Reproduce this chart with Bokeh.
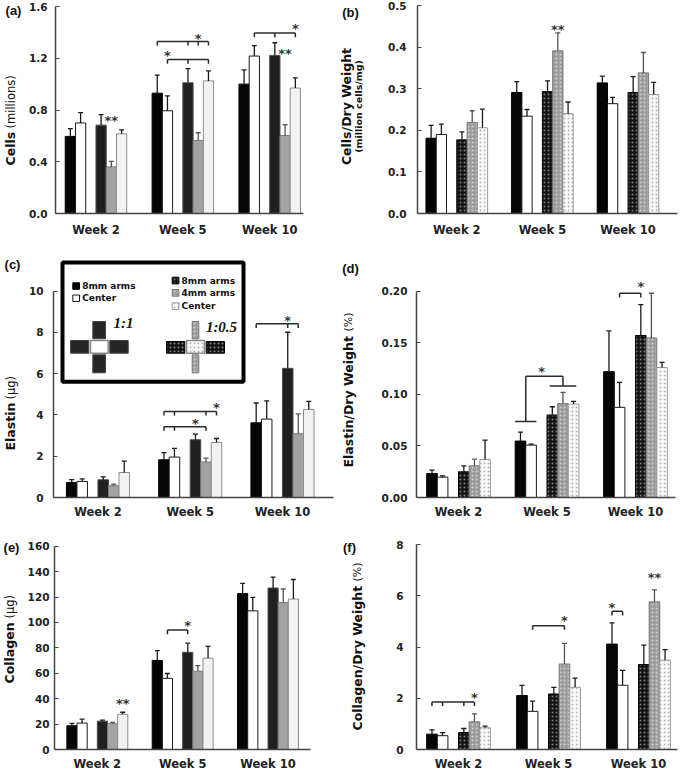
import math
from bokeh.plotting import figure
from bokeh.models import Range1d, FixedTicker, NumeralTickFormatter
from bokeh.layouts import column, row
from bokeh.embed import file_html
from bokeh.resources import INLINE
from bokeh.core.properties import value

# ---------------- data ----------------
weeks = ["Week 2", "Week 5", "Week 10"]
groups = ["1:1 8mm arms", "1:1 Center", "1:0.5 8mm arms", "1:0.5 4mm arms", "1:0.5 Center"]
legend_labels = ["8mm arms", "Center", "8mm arms", "4mm arms", "Center"]
ratio_labels = ["1:1", "1:0.5"]

# rows follow `groups`, columns follow `weeks`
cells_mean = [[0.596, 0.93, 1.00], [0.70, 0.794, 1.217], [0.683, 1.01, 1.222],
              [0.36, 0.565, 0.603], [0.616, 1.025, 0.97]]
cells_err = [[0.06, 0.14, 0.11], [0.08, 0.115, 0.08], [0.082, 0.11, 0.098],
             [0.043, 0.059, 0.083], [0.031, 0.077, 0.078]]

cellsdw_mean = [[0.181, 0.291, 0.314], [0.19, 0.234, 0.264], [0.177, 0.293, 0.291],
                [0.219, 0.391, 0.338], [0.206, 0.24, 0.286]]
cellsdw_err = [[0.031, 0.026, 0.016], [0.025, 0.016, 0.015], [0.019, 0.026, 0.038],
               [0.028, 0.043, 0.049], [0.045, 0.028, 0.029]]

elastin_mean = [[0.73, 1.83, 3.62], [0.78, 1.96, 3.80], [0.86, 2.80, 6.26],
                [0.57, 1.72, 3.09], [1.21, 2.67, 4.27]]
elastin_err = [[0.14, 0.35, 0.96], [0.12, 0.42, 0.88], [0.14, 0.27, 1.75],
               [0.08, 0.19, 0.96], [0.55, 0.19, 0.39]]

elastindw_mean = [[0.0233, 0.0547, 0.122], [0.0197, 0.0508, 0.0874], [0.0249, 0.080, 0.157],
                  [0.0307, 0.091, 0.1547], [0.0369, 0.0906, 0.126]]
elastindw_err = [[0.0032, 0.0087, 0.0395], [0.0013, 0.001, 0.0243], [0.0058, 0.008, 0.030],
                 [0.0065, 0.011, 0.0433], [0.0188, 0.0026, 0.005]]

collagen_mean = [[18.7, 70.1, 122.7], [20.8, 56.0, 109.1], [22.3, 76.5, 127.1],
                 [20.3, 61.6, 115.6], [27.7, 71.9, 118.4]]
collagen_err = [[1.8, 7.7, 8.0], [3.1, 3.8, 10.6], [0.8, 7.2, 8.5],
                [1.0, 4.4, 10.7], [1.6, 9.2, 15.4]]

collagendw_mean = [[0.60, 2.11, 4.12], [0.54, 1.49, 2.51], [0.66, 2.17, 3.32],
                   [1.08, 3.34, 5.77], [0.85, 2.43, 3.49]]
collagendw_err = [[0.17, 0.40, 0.83], [0.12, 0.40, 0.58], [0.16, 0.26, 0.76],
                  [0.31, 0.81, 0.47], [0.06, 0.36, 0.41]]

# significance brackets: (week, y, first group, last group, tick groups, mark, mark group, mark y)
cells_brackets = [(1, 1.33, 0, 4, [0, 2, 3, 4], "*", 3, 1.375),
                  (1, 1.19, 1, 4, [1, 2, 4], "*", 1, 1.245),
                  (2, 1.395, 1, 4, [1, 2, 4], "*", 4, 1.45)]
cells_marks = [(0, 3, 0.745, "**"), (2, 3, 1.258, "**")]   # (week, group, y, mark)
cellsdw_brackets = []
cellsdw_marks = [(1, 3, 0.449, "**")]
elastin_brackets = [(1, 4.17, 0, 4, [0, 1, 3, 4], "*", 4, 4.53),
                    (1, 3.43, 0, 3, [0, 1, 3], "*", 2, 3.72),
                    (2, 8.42, 0, 3, [0, 2, 3], "*", 2, 8.74)]
elastin_marks = []
elastindw_brackets = [(2, 0.198, 1, 2, [1, 2], "*", 2, 0.207)]
elastindw_marks = []
# grouped bracket in (d): week, left-group y, right-group y, joining y, mark y
elastindw_group_bracket = (1, 0.0738, 0.108, 0.1175, 0.1247)
collagen_brackets = [(1, 94.0, 1, 2, [1, 2], "*", 2, 100.2)]
collagen_marks = [(0, 4, 38.5, "**")]
collagendw_brackets = [(0, 1.86, 0, 3, [0, 1, 2, 3], "*", 3, 2.16),
                       (1, 4.84, 1, 3, [1, 3], "*", 3, 5.14),
                       (2, 5.40, 0, 1, [0, 1], "*", 0, 5.66)]
collagendw_marks = [(2, 3, 6.82, "**")]

# ---------------- styles / layout ----------------
SLOT = [-2.5, -1.5, 0.5, 1.5, 2.5]   # bar offsets in bar widths (slot 2 empty)

SOLID = [
    dict(fill_color="#050505", line_color="#000000"),
    dict(fill_color="#ffffff", line_color="#1a1a1a"),
    dict(fill_color="#202020", line_color="#4a4a4a"),
    dict(fill_color="#a3a3a3", line_color="#7a7a7a"),
    dict(fill_color="#f2f2f2", line_color="#8c8c8c"),
]
HATCH = dict(hatch_pattern="dot", hatch_scale=4, hatch_weight=1)
DOTTED = [
    dict(fill_color="#050505", line_color="#000000"),
    dict(fill_color="#ffffff", line_color="#1a1a1a"),
    dict(fill_color="#141414", line_color="#000000", hatch_color="#7a7a7a", **HATCH),
    dict(fill_color="#9c9c9c", line_color="#777777", hatch_color="#cfcfcf", **HATCH),
    dict(fill_color="#fcfcfc", line_color="#999999", hatch_color="#b3b3b3", **HATCH),
]

# page geometry (px): strip | panel for each column; three rows.
# In each row every frame starts at the row top and ends at ROW_FB.
STRIP_W = [24, 30]
COL_X = [0, 340]
COL_W = [340, 344]
ROW_Y = [0, 245, 522]
ROW_H = [245, 277, 251]
ROW_FB = [213, 497, 749]

FONT = "DejaVu Sans"
INK = "#222222"


def yend_of(cfg):
    r = cfg["row"]
    return cfg["yticks"][-1] * (ROW_FB[r] - ROW_Y[r]) / (ROW_FB[r] - cfg["ttop"])


def make_panel(cfg, means, errs, brackets, marks):
    c, r = cfg["col"], cfg["row"]
    fx = COL_X[c] + STRIP_W[c]
    fwid = COL_W[c] - STRIP_W[c]
    mbl = round(cfg["fl"] - fx)
    frw = round(cfg["fr"] - cfg["fl"])
    mbr = fwid - mbl - frw
    mbb = ROW_Y[r] + ROW_H[r] - ROW_FB[r]
    yend = yend_of(cfg)

    p = figure(width=fwid, height=ROW_H[r], x_range=Range1d(*cfg["xr"]),
               y_range=Range1d(0, yend), output_backend="svg",
               toolbar_location=None, min_border_left=mbl, min_border_right=mbr,
               min_border_top=0, min_border_bottom=mbb)
    p.xgrid.visible = False
    p.ygrid.visible = False
    p.outline_line_color = None
    p.background_fill_color = "white"
    p.border_fill_color = "white"

    xa = p.xaxis[0]
    xa.ticker = FixedTicker(ticks=[1, 2, 3])
    xa.major_label_overrides = {i + 1: wk for i, wk in enumerate(weeks)}
    xa.major_tick_line_color = None
    xa.minor_tick_line_color = None
    xa.major_label_standoff = cfg["xstand"]
    xa.major_label_text_font = FONT
    xa.major_label_text_font_style = "bold"
    xa.major_label_text_font_size = "11.5px"
    xa.major_label_text_color = INK
    xa.axis_line_color = "#444444"
    xa.axis_line_width = 1.5

    ya = p.yaxis[0]
    ya.ticker = FixedTicker(ticks=cfg["yticks"])
    ya.formatter = NumeralTickFormatter(format=cfg["yfmt"])
    ya.bounds = (0, cfg["yticks"][-1])
    ya.major_tick_in = 4
    ya.major_tick_out = 0
    ya.minor_tick_line_color = None
    ya.major_tick_line_color = "#444444"
    ya.major_label_standoff = cfg["ystand"]
    ya.major_label_text_font = FONT
    ya.major_label_text_font_style = "bold"
    ya.major_label_text_font_size = "10.5px"
    ya.major_label_text_color = INK
    ya.axis_line_color = "#444444"
    ya.axis_line_width = 1.5

    w = cfg["w"]

    def xpos(week, g):
        return week + 1 + SLOT[g] * w

    for g in range(5):
        xs = [xpos(k, g) for k in range(3)]
        p.vbar(x=xs, top=means[g], bottom=0, width=w, line_width=1, **cfg["style"][g])
    for g in range(5):
        xs = [xpos(k, g) for k in range(3)]
        tops = [m + e for m, e in zip(means[g], errs[g])]
        ec = "#555555" if g == 3 else "#1a1a1a"
        p.segment(x0=xs, y0=means[g], x1=xs, y1=tops, line_color=ec, line_width=1.3)
        p.segment(x0=[x - 0.24 * w for x in xs], y0=tops, x1=[x + 0.24 * w for x in xs],
                  y1=tops, line_color=ec, line_width=1.3)

    tick = 0.02 * cfg["yticks"][-1]
    sx0, sy0, sx1, sy1 = [], [], [], []
    mx, my, mt = [], [], []
    for (wk, y, g0, g1, tg, mk, mg, myy) in brackets:
        sx0.append(xpos(wk, g0)); sx1.append(xpos(wk, g1)); sy0.append(y); sy1.append(y)
        for t in tg:
            sx0.append(xpos(wk, t)); sx1.append(xpos(wk, t)); sy0.append(y); sy1.append(y - tick)
        mx.append(xpos(wk, mg)); my.append(myy); mt.append(mk)
    for (wk, g, y, mk) in marks:
        mx.append(xpos(wk, g)); my.append(y); mt.append(mk)
    if sx0:
        p.segment(x0=sx0, y0=sy0, x1=sx1, y1=sy1, line_color="#2a2a2a", line_width=1.5)
    if mx:
        p.text(x=mx, y=my, text=mt, text_font=value(FONT), text_font_style="bold",
               text_font_size="13px", text_color="#333333", text_align="center",
               text_baseline="middle", y_offset=3)
    return p, w


def make_strip(c, r, items):
    """Narrow figure left of a panel that carries the panel letter and the y-axis title."""
    w, h = STRIP_W[c], ROW_H[r]
    ox = COL_X[c]
    s = figure(width=w, height=h, x_range=Range1d(0, w), y_range=Range1d(ROW_FB[r], ROW_Y[r]),
               output_backend="svg", toolbar_location=None, min_border_left=0,
               min_border_right=0, min_border_top=0,
               min_border_bottom=ROW_Y[r] + h - ROW_FB[r],
               x_axis_type=None, y_axis_type=None)
    s.outline_line_color = None
    s.background_fill_color = "white"
    s.border_fill_color = "white"
    for (txt, font, style, size, x, y, align, rot) in items:
        s.text(x=[x - ox], y=[y], text=[txt], angle=math.pi / 2 if rot else 0,
               text_font=value(font), text_font_style=style, text_font_size=size,
               text_color="#111111", text_align=align, text_baseline="middle")
    return s


CFG = {
    "a": dict(col=0, row=0, fl=55, fr=303, ttop=6, xr=(0.534, 3.389), w=0.118,
              yticks=[0, 0.4, 0.8, 1.2, 1.6], yfmt="0.0", style=SOLID, xstand=3, ystand=8),
    "b": dict(col=1, row=0, fl=417, fr=677, ttop=5, xr=(0.541, 3.578), w=0.12,
              yticks=[0, 0.1, 0.2, 0.3, 0.4, 0.5], yfmt="0.0", style=DOTTED, xstand=3, ystand=11),
    "c": dict(col=0, row=1, fl=53, fr=333, ttop=290.7, xr=(0.518, 3.553), w=0.114,
              yticks=[0, 2, 4, 6, 8, 10], yfmt="0", style=SOLID, xstand=1, ystand=10),
    "d": dict(col=1, row=1, fl=416, fr=675, ttop=290.7, xr=(0.525, 3.452), w=0.12,
              yticks=[0, 0.05, 0.10, 0.15, 0.20], yfmt="0.00", style=DOTTED, xstand=1, ystand=9),
    "e": dict(col=0, row=2, fl=52, fr=310, ttop=545.7, xr=(0.498, 3.498), w=0.119,
              yticks=[0, 20, 40, 60, 80, 100, 120, 140, 160], yfmt="0", style=SOLID,
              xstand=1, ystand=5),
    "f": dict(col=1, row=2, fl=416, fr=677, ttop=544.3, xr=(0.533, 3.433), w=0.118,
              yticks=[0, 2, 4, 6, 8], yfmt="0", style=DOTTED, xstand=1, ystand=13),
}

LET = "Liberation Sans"
STRIPS = {
    "a": [("(a)", LET, "bold", "13px", 13, 10, "center", False),
          ("Cells", FONT, "bold", "12.5px", 10, 165, "left", True),
          ("(millions)", FONT, "normal", "11.5px", 10, 128, "left", True)],
    "b": [("(b)", LET, "bold", "13px", 350, 12, "center", False),
          ("Cells/Dry Weight", FONT, "bold", "12.5px", 346, 106, "center", True),
          ("(million cells/mg)", FONT, "bold", "9.5px", 358, 106, "center", True)],
    "c": [("(c)", LET, "bold", "13px", 12, 264, "center", False),
          ("Elastin", FONT, "bold", "12.5px", 10, 450, "left", True),
          ("(μg)", FONT, "normal", "11.5px", 10, 399, "left", True)],
    "d": [("(d)", LET, "bold", "13px", 350, 268, "center", False),
          ("Elastin/Dry Weight", FONT, "bold", "12.5px", 348, 467, "left", True),
          ("(%)", FONT, "normal", "11px", 348, 331, "left", True)],
    "e": [("(e)", LET, "bold", "13px", 11, 547, "center", False),
          ("Collagen", FONT, "bold", "12.5px", 9, 683, "left", True),
          ("(μg)", FONT, "normal", "11.5px", 9, 618, "left", True)],
    "f": [("(f)", LET, "bold", "13px", 349, 547, "center", False),
          ("Collagen/Dry Weight", FONT, "bold", "12.5px", 357, 730, "left", True),
          ("(%)", FONT, "normal", "11px", 357, 581, "left", True)],
}

pa, _ = make_panel(CFG["a"], cells_mean, cells_err, cells_brackets, cells_marks)
pb, _ = make_panel(CFG["b"], cellsdw_mean, cellsdw_err, cellsdw_brackets, cellsdw_marks)
pc, wc = make_panel(CFG["c"], elastin_mean, elastin_err, elastin_brackets, elastin_marks)
pd_, wd = make_panel(CFG["d"], elastindw_mean, elastindw_err, elastindw_brackets, elastindw_marks)
pe, _ = make_panel(CFG["e"], collagen_mean, collagen_err, collagen_brackets, collagen_marks)
pf, _ = make_panel(CFG["f"], collagendw_mean, collagendw_err, collagendw_brackets, collagendw_marks)

strips = {k: make_strip(CFG[k]["col"], CFG[k]["row"], STRIPS[k]) for k in "abcdef"}

# grouped bracket on (d)
wk, yl, yr, yt, ym = elastindw_group_bracket
c0 = wk + 1
xl = c0 + (SLOT[0] + SLOT[1]) / 2 * wd
xr_ = c0 + SLOT[3] * wd
pd_.segment(x0=[c0 + (SLOT[0] - 0.5) * wd, xl, xl, xr_, c0 + (SLOT[2] - 0.25) * wd],
            y0=[yl, yl, yt, yt, yr],
            x1=[c0 + (SLOT[1] + 0.5) * wd, xl, xr_, xr_, c0 + (SLOT[4] + 0.25) * wd],
            y1=[yl, yt, yt, yr, yr], line_color="#2a2a2a", line_width=1.5)
pd_.text(x=[c0 - 0.5 * wd], y=[ym], text=["*"], text_font=value(FONT), text_font_style="bold",
         text_font_size="13px", text_color="#333333", text_align="center",
         text_baseline="middle", y_offset=3)

# legend inset on (c), placed in page pixels through the panel's own scales
cc = CFG["c"]
c_top, c_bot, c_end = ROW_Y[1], ROW_FB[1], yend_of(cc)


def cx(rx):
    return cc["xr"][0] + (rx - cc["fl"]) / (cc["fr"] - cc["fl"]) * (cc["xr"][1] - cc["xr"][0])


def cy(ry):
    return (c_bot - ry) / (c_bot - c_top) * c_end


def box(x0, y0, x1, y1, **kw):
    pc.quad(left=[cx(x0)], right=[cx(x1)], top=[cy(y0)], bottom=[cy(y1)], **kw)


box(62, 262, 243, 381.3, fill_color="white", line_color="black", line_width=4)

sq_left = [(72.3, 282.3, 285.5), (72.3, 294.5, 297.7)]
sq_right = [(171.7, 276.7, 280.0), (171.7, 289.0, 292.3), (171.7, 302.3, 305.6)]
for g, (x0, y0, yc) in enumerate(sq_left):
    box(x0, y0, x0 + 6.7, y0 + 6.5, line_width=1, **SOLID[g])
    pc.text(x=[cx(x0 + 9.4)], y=[cy(yc)], text=[legend_labels[g]], text_font=value(FONT),
            text_font_style="bold", text_font_size="9px", text_color="#111111",
            text_baseline="middle")
for k, (x0, y0, yc) in enumerate(sq_right):
    g = k + 2
    box(x0, y0, x0 + 6.7, y0 + 6.7, line_width=1, **DOTTED[g])
    pc.text(x=[cx(x0 + 9.4)], y=[cy(yc)], text=[legend_labels[g]], text_font=value(FONT),
            text_font_style="bold", text_font_size="9px", text_color="#111111",
            text_baseline="middle")

# 1:1 cross
arm = dict(fill_color="#262626", line_color="#444444", line_width=1)
box(92.3, 321, 105, 338.3, **arm)
box(92.3, 354.3, 105, 372.3, **arm)
box(70, 340, 88.3, 352.7, **arm)
box(109.3, 340, 127.7, 352.7, **arm)
box(90, 340, 107.7, 352.7, fill_color="white", line_color="#8a8a8a", line_width=1.5)
# 1:0.5 cross
box(191.7, 321, 198.3, 338.3, line_width=1, **DOTTED[3])
box(191.7, 354.3, 198.3, 372.3, line_width=1, **DOTTED[3])
box(166, 341, 184.3, 352.7, line_width=1, **DOTTED[2])
box(205.7, 341, 224, 352.7, line_width=1, **DOTTED[2])
box(186, 340, 204, 352.7, fill_color="#fcfcfc", line_color="#8a8a8a", line_width=1.5,
    hatch_color="#b3b3b3", **HATCH)
pc.text(x=[cx(123), cx(221)], y=[cy(322.5), cy(326.7)], text=ratio_labels,
        text_font=value("Liberation Serif"), text_font_style="bold italic",
        text_font_size="15px", text_color="#111111", text_align="center",
        text_baseline="middle")

layout = column(row(strips["a"], pa, strips["b"], pb),
                row(strips["c"], pc, strips["d"], pd_),
                row(strips["e"], pe, strips["f"], pf))
open("out.html", "w").write(file_html(layout, INLINE))
